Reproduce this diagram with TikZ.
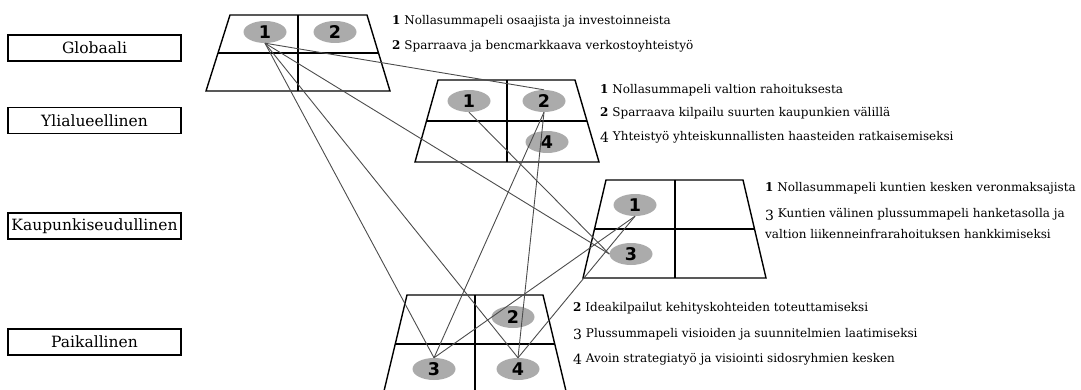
\documentclass[tikz,border=0pt]{standalone}
\usepackage{fontspec}
\setmainfont{DejaVu Serif}
\newfontfamily\numfont{DejaVu Sans}
\usetikzlibrary{shapes.geometric}
\newcommand{\nb}[1]{\textbf{#1}}
\newcommand{\no}[1]{\raisebox{-2pt}{\fontsize{14}{14}\selectfont #1}}
\newcommand{\bd}[1]{\raisebox{-1.5pt}{#1}}
\begin{document}
\begin{tikzpicture}[x=1pt,y=-1pt,
  frame/.style={line width=1.4pt, line join=miter},
  lvl/.style={draw, line width=1.1pt, minimum width=173pt, minimum height=26pt, inner sep=0pt, font=\fontsize{15.5}{18}\selectfont},
  bub/.style={ellipse, fill=black!33, minimum width=43pt, minimum height=22pt, inner sep=0pt, font=\numfont\bfseries\fontsize{17.5}{20}\selectfont},
  conn/.style={draw=black!70, line width=0.9pt},
  desc/.style={anchor=base west, inner sep=0pt, font=\fontsize{12}{14}\selectfont}]
\useasboundingbox (0,0) rectangle (1081,390);
% level labels
\node[lvl] (lg) at (94.5,48) {Globaali};
\node[lvl] (ly) at (94.5,120.5) {Ylialueellinen};
\node[lvl] (lk) at (94.5,226) {Kaupunkiseudullinen};
\node[lvl] (lp) at (94.5,342) {Paikallinen};
% frames
\draw[frame] (230,15) -- (367,15) -- (390,91) -- (206,91) -- cycle;
\draw[frame] (218,53) -- (378.5,53);
\draw[frame] (298,15) -- (298,91);
\draw[frame] (438,80) -- (575,80) -- (599,162) -- (415,162) -- cycle;
\draw[frame] (426.5,121) -- (587,121);
\draw[frame] (507,80) -- (507,162);
\draw[frame] (606,180) -- (743,180) -- (766,278) -- (583,278) -- cycle;
\draw[frame] (594.5,229) -- (754.5,229);
\draw[frame] (675,180) -- (675,278);
\draw[frame] (384,391) -- (407,295) -- (543,295) -- (566,391);
\draw[frame] (395.1,344) -- (554.9,344);
\draw[frame] (475,295) -- (475,391);
% bubbles
\node[bub] (g1) at (265,32) {\bd{1}};
\node[bub] (g2) at (335,32) {\bd{2}};
\node[bub] (y1) at (469,101) {\bd{1}};
\node[bub] (y2) at (544,101) {\bd{2}};
\node[bub] (y4) at (547,142) {\bd{4}};
\node[bub] (k1) at (635,205) {\bd{1}};
\node[bub] (k3) at (631,254) {\bd{3}};
\node[bub] (p2) at (513,317) {\bd{2}};
\node[bub] (p3) at (434,369) {\bd{3}};
\node[bub] (p4) at (518,369) {\bd{4}};
% connectors
\draw[conn] (g1.south) -- (y2.north);
\draw[conn] (g1.south) -- (k3.west);
\draw[conn] (g1.south) -- (p3.north);
\draw[conn] (g1.south) -- (p4.north);
\draw[conn] (y1.south) -- (k3.west);
\draw[conn] (y2.south) -- (p3.north);
\draw[conn] (y2.south) -- (p4.north);
\draw[conn] (k1.south) -- (p3.north);
\draw[conn] (k1.south) -- (p4.north);
% descriptions
\node[desc] (tg1) at (392,25) {\nb{1} Nollasummapeli osaajista ja investoinneista};
\node[desc] (tg2) at (392,50) {\nb{2} Sparraava ja bencmarkkaava verkostoyhteistyö};
\node[desc] (ty1) at (600,94) {\nb{1} Nollasummapeli valtion rahoituksesta};
\node[desc] (ty2) at (600,117) {\nb{2} Sparraava kilpailu suurten kaupunkien välillä};
\node[desc] (ty4) at (600,141) {\no{4} Yhteistyö yhteiskunnallisten haasteiden ratkaisemiseksi};
\node[desc] (tk1) at (765,192) {\nb{1} Nollasummapeli kuntien kesken veronmaksajista};
\node[desc] (tk3) at (765,218) {\no{3} Kuntien välinen plussummapeli hanketasolla ja};
\node[desc] (tk3b) at (765,238) {valtion liikenneinfrarahoituksen hankkimiseksi};
\node[desc] (tp2) at (573,311) {\nb{2} Ideakilpailut kehityskohteiden toteuttamiseksi};
\node[desc] (tp3) at (573,337) {\no{3} Plussummapeli visioiden ja suunnitelmien laatimiseksi};
\node[desc] (tp4) at (573,362) {\no{4} Avoin strategiatyö ja visiointi sidosryhmien kesken};
\end{tikzpicture}
\end{document}
